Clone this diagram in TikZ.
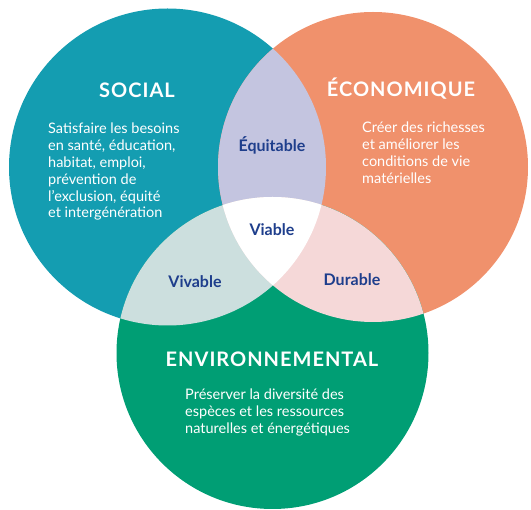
\documentclass[tikz,border=0pt]{standalone}
\usepackage{fontspec}
\setmainfont{Lato}
\usetikzlibrary{positioning}

\definecolor{socialteal}{HTML}{149DB1}
\definecolor{ecoorange}{HTML}{F0916C}
\definecolor{envgreen}{HTML}{009E74}
\definecolor{lensviolet}{HTML}{C4C5E0}
\definecolor{lensgrey}{HTML}{CCDFDE}
\definecolor{lenspink}{HTML}{F5D8D8}
\definecolor{labelblue}{HTML}{1E3E8C}

\tikzset{
	title/.style={text=white, inner sep=0pt, font=\fontsize{20}{24}\selectfont\bfseries\addfontfeature{LetterSpace=5}},
	body/.style={text=white, align=left, inner sep=0pt, font=\fontsize{14.5}{16.8}\selectfont},
	lenslabel/.style={text=labelblue, inner sep=0pt, font=\fontsize{16}{18}\selectfont\bfseries},
}

\begin{document}
\begin{tikzpicture}[x=1pt,y=-1pt]
		%%%%% START %%%%%
		\useasboundingbox (0,0) rectangle (531,510);
		
		\coordinate (soc) at (167.5,167);
		\coordinate (eco) at (373,167);
		\coordinate (env) at (272.5,353);
		
		% the three circles
		\fill[socialteal] (soc) circle (158.5);
		\fill[ecoorange] (eco) circle (155);
		\fill[envgreen] (env) circle (156);
		
		% two by two
		\begin{scope}
			\clip (soc) circle (158.5);
			\fill[lensviolet] (eco) circle (155);
			\fill[lensgrey] (env) circle (156);
		\end{scope}
		\begin{scope}
			\clip (eco) circle (155);
			\fill[lenspink] (env) circle (156);
		\end{scope}
		
		% all three
		\begin{scope}
			\clip (soc) circle (158.5);
			\clip (eco) circle (155);
			\fill[white] (env) circle (156);
		\end{scope}
		
		\node[title, anchor=base] (socialtitle) at (137,98) {SOCIAL};
		\node[body, anchor=north west] (socialtext) at (48,123) {Satisfaire les besoins\\en santé, éducation,\\habitat, emploi,\\prévention de\\l’exclusion, équité\\et intergénération};
		
		\node[title, anchor=base] (ecotitle) at (401,97) {ÉCONOMIQUE};
		\node[body, anchor=north west] (ecotext) at (362,122) {Créer des richesses\\et améliorer les\\conditions de vie\\matérielles};
		
		\node[title, anchor=base] (envtitle) at (272,367) {ENVIRONNEMENTAL};
		\node[body, anchor=north west] (envtext) at (185,389) {Préserver la diversité des\\espèces et les ressources\\naturelles et énergétiques};
		
		\node[lenslabel, anchor=base] (equitable) at (272,152) {Équitable};
		\node[lenslabel, anchor=base] (viable) at (272,236) {Viable};
		\node[lenslabel, anchor=base] (vivable) at (195,288) {Vivable};
		\node[lenslabel, anchor=base] (durable) at (352,286) {Durable};
		
		%%%%% END %%%%%
\end{tikzpicture}
\end{document}
